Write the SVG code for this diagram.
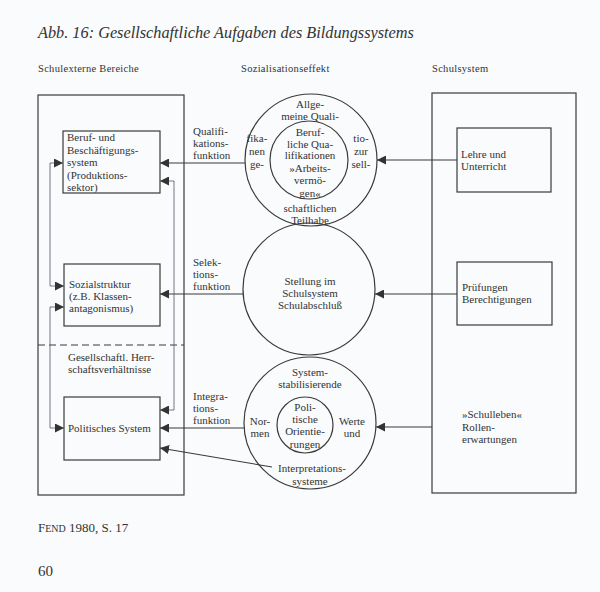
<svg xmlns="http://www.w3.org/2000/svg" width="600" height="592" viewBox="0 0 600 592" font-family="'Liberation Serif','DejaVu Serif',serif">
<defs>
<style>
text{font-family:'Liberation Serif','DejaVu Serif',serif;fill:#333;font-size:11px}
.c{text-anchor:middle}
.hd{font-size:10.5px;letter-spacing:0.3px}
.ln{fill:none;stroke:#3a3a3a;stroke-width:1.1}
.bx{fill:none;stroke:#3a3a3a;stroke-width:1.2}
.thin{fill:none;stroke:#556;stroke-width:0.8}
</style>
<marker id="ah" viewBox="0 0 10 10" refX="10" refY="5" markerWidth="9" markerHeight="9" markerUnits="userSpaceOnUse" orient="auto-start-reverse">
<path d="M0,0 L10,5 L0,10 z" fill="#333"/>
</marker>
</defs>
<rect width="600" height="592" fill="#f9fbfc"/>
<text x="38" y="38" style="font-style:italic;font-size:16.3px">Abb. 16:  Gesellschaftliche Aufgaben des Bildungssystems</text>
<text x="38" y="72" class="hd">Schulexterne Bereiche</text>
<text x="241" y="72" class="hd">Sozialisationseffekt</text>
<text x="432" y="72" class="hd">Schulsystem</text>

<g id="schulexterne">
<rect x="38" y="95" width="146" height="400" class="bx"/>
<line x1="38" y1="345" x2="184" y2="345" stroke="#3a3a3a" stroke-width="1.1" stroke-dasharray="7,4"/>
<text x="68" y="361">Gesellschaftl. Herr-</text>
<text x="68" y="373">schaftsverhältnisse</text>
</g>
<g id="beruf">
<rect x="63" y="131" width="97" height="62" class="bx"/>
<text x="67" y="141">Beruf- und</text>
<text x="67" y="153.5">Beschäftigungs-</text>
<text x="67" y="166">system</text>
<text x="67" y="178.5">(Produktions-</text>
<text x="67" y="191">sektor)</text>
</g>
<g id="sozialstruktur">
<rect x="64" y="264" width="96" height="62" class="bx"/>
<text x="69" y="288">Sozialstruktur</text>
<text x="69" y="300">(z.B. Klassen-</text>
<text x="69" y="312">antagonismus)</text>
</g>
<g id="politisch">
<rect x="64" y="397" width="96" height="63" class="bx"/>
<text x="68" y="432">Politisches System</text>
</g>

<g id="kreis-qualifikation">
<circle cx="311" cy="160" r="66" class="bx"/>
<circle cx="309" cy="160" r="39" class="bx"/>
<text x="310" y="108" class="c">Allge-</text>
<text x="310" y="119.5" class="c">meine Quali-</text>
<text x="257" y="142" class="c">fika-</text>
<text x="257" y="155" class="c">nen</text>
<text x="257" y="168" class="c">ge-</text>
<text x="310" y="136" class="c">Beruf-</text>
<text x="310" y="147.5" class="c">liche Qua-</text>
<text x="310" y="159" class="c">lifikationen</text>
<text x="310" y="172" class="c">»Arbeits-</text>
<text x="310" y="184" class="c">vermö-</text>
<text x="310" y="197" class="c">gen«</text>
<text x="361" y="142" class="c">tio-</text>
<text x="361" y="155" class="c">zur</text>
<text x="361" y="168" class="c">sell-</text>
<text x="310" y="212" class="c">schaftlichen</text>
<text x="310" y="223.5" class="c">Teilhabe</text>
</g>
<g id="kreis-selektion">
<circle cx="309" cy="289" r="66" class="bx"/>
<text x="310" y="285" class="c">Stellung im</text>
<text x="310" y="297" class="c">Schulsystem</text>
<text x="310" y="309" class="c">Schulabschluß</text>
</g>
<g id="kreis-integration">
<circle cx="310" cy="423" r="66" class="bx"/>
<circle cx="305" cy="425" r="28" class="bx"/>
<text x="310" y="376" class="c">System-</text>
<text x="310" y="388" class="c">stabilisierende</text>
<text x="260" y="425" class="c">Nor-</text>
<text x="260" y="437" class="c">men</text>
<text x="352" y="425" class="c">Werte</text>
<text x="352" y="437" class="c">und</text>
<text x="305" y="411" class="c">Poli-</text>
<text x="305" y="423" class="c">tische</text>
<text x="305" y="435" class="c">Orientie-</text>
<text x="305" y="448" class="c">rungen</text>
<text x="312" y="472" class="c">Interpretations-</text>
<text x="310" y="485" class="c">systeme</text>
</g>

<g id="schulsystem">
<rect x="432" y="93" width="144" height="400" class="bx"/>
</g>
<g id="lehre">
<rect x="457" y="128" width="94" height="64" class="bx"/>
<text x="461" y="158">Lehre und</text>
<text x="461" y="170">Unterricht</text>
</g>
<g id="pruefungen">
<rect x="457" y="262" width="95" height="63" class="bx"/>
<text x="462" y="291">Prüfungen</text>
<text x="462" y="303">Berechtigungen</text>
</g>
<g id="schulleben">
<text x="462" y="418">»Schulleben«</text>
<text x="462" y="431">Rollen-</text>
<text x="462" y="443">erwartungen</text>
</g>

<g id="labels">
<text x="193" y="135">Qualifi-</text>
<text x="193" y="147">kations-</text>
<text x="193" y="159">funktion</text>
<text x="193" y="266">Selek-</text>
<text x="193" y="278">tions-</text>
<text x="193" y="290">funktion</text>
<text x="193" y="400">Integra-</text>
<text x="193" y="412">tions-</text>
<text x="193" y="424">funktion</text>
</g>

<g id="connectors">
<line x1="245" y1="163" x2="160" y2="163" class="ln" marker-end="url(#ah)"/>
<line x1="243" y1="294" x2="160" y2="294" class="ln" marker-end="url(#ah)"/>
<line x1="244" y1="428" x2="160" y2="428" class="ln" marker-end="url(#ah)"/>
<line x1="272" y1="467" x2="160" y2="448" class="ln" marker-end="url(#ah)"/>
<line x1="457" y1="160" x2="377" y2="160" class="ln" marker-end="url(#ah)"/>
<line x1="457" y1="294" x2="375" y2="294" class="ln" marker-end="url(#ah)"/>
<line x1="432" y1="427" x2="376" y2="427" class="ln" marker-end="url(#ah)"/>
<path d="M63,163 H50 V286 H64" class="thin" marker-start="url(#ah)" marker-end="url(#ah)"/>
<path d="M64,307 H50 V428 H64" class="thin" marker-start="url(#ah)" marker-end="url(#ah)"/>
<path d="M160,181 H174 V410 H160" class="thin" marker-start="url(#ah)" marker-end="url(#ah)"/>
</g>

<text x="38" y="532"><tspan style="font-size:13px">F</tspan><tspan style="font-size:10px">END</tspan><tspan style="font-size:13px"> 1980, S. 17</tspan></text>
<text x="38" y="576" style="font-size:15px">60</text>
</svg>
